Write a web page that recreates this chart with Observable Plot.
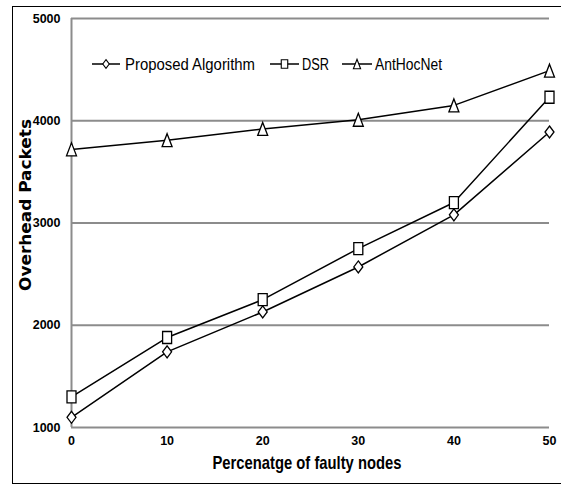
<!DOCTYPE html>
<html>
<head>
<meta charset="utf-8">
<script src="https://cdn.jsdelivr.net/npm/d3@7"></script>
<script src="https://cdn.jsdelivr.net/npm/@observablehq/plot@0.6"></script>
<style>
  html, body { margin: 0; padding: 0; background: #fff; }
  #wrap { position: relative; width: 561px; height: 485px; overflow: hidden; background: #fff; }
  #box { position: absolute; left: 12px; top: 6px; width: 560px; height: 478px;
         border-left: 1.5px solid #000; border-top: 1.5px solid #000; border-bottom: 1.5px solid #000;
         pointer-events: none; box-sizing: border-box; z-index: 2; }
  #wrap svg { position: absolute; left: 0; top: 0; }
</style>
</head>
<body>
<div id="wrap"><div id="box"></div></div>
<script>
const xValues = [0, 10, 20, 30, 40, 50];
const proposed = [1100, 1740, 2130, 2570, 3080, 3890];
const dsr = [1300, 1880, 2250, 2750, 3200, 4230];
const antHocNet = [3720, 3810, 3920, 4010, 4150, 4490];
const seriesNames = ["Proposed Algorithm", "DSR", "AntHocNet"];
const yTicks = [1000, 2000, 3000, 4000, 5000];
const xTicks = [0, 10, 20, 30, 40, 50];
const xTitle = "Percenatge of faulty nodes";
const yTitle = "Overhead Packets";

const seriesValues = [proposed, dsr, antHocNet];
const rows = seriesNames.flatMap((name, i) =>
  xValues.map((x, j) => ({series: name, x, y: seriesValues[i][j]})));

const sans = "'Liberation Sans', Arial, sans-serif";

function makeSymbols(s) {
  return {
    "Proposed Algorithm": {draw(c) { c.moveTo(0, -6*s); c.lineTo(4.5*s, 0); c.lineTo(0, 6*s); c.lineTo(-4.5*s, 0); c.closePath(); }},
    "DSR": {draw(c) { c.moveTo(-4.5*s, -6*s); c.lineTo(4.5*s, -6*s); c.lineTo(4.5*s, 6*s); c.lineTo(-4.5*s, 6*s); c.closePath(); }},
    "AntHocNet": {draw(c) { c.moveTo(0, -6.5*s); c.lineTo(5*s, 6.5*s); c.lineTo(-5*s, 6.5*s); c.closePath(); }}
  };
}
const sym = makeSymbols(1);

const chart = Plot.plot({
  width: 561,
  height: 485,
  marginTop: 18,
  marginBottom: 58,
  marginLeft: 71,
  marginRight: 12,
  x: {domain: [0, 50]},
  y: {domain: [1000, 5000]},
  style: {background: "transparent", overflow: "visible"},
  marks: [
    Plot.ruleY(yTicks, {stroke: "#8c8c8c", strokeWidth: 2}),
    Plot.ruleX([0], {stroke: "#8c8c8c", strokeWidth: 2}),
    Plot.axisY({ticks: yTicks, tickFormat: "d", tickSize: 0, tickPadding: 11, label: null,
      fontSize: 12.5, fontWeight: "bold", fontFamily: sans, fill: "#000"}),
    Plot.axisX({ticks: xTicks, tickFormat: "d", tickSize: 0, tickPadding: 9, label: null,
      fontSize: 12.5, fontWeight: "bold", fontFamily: sans, fill: "#000"}),
    Plot.line(rows, {x: "x", y: "y", z: "series", stroke: "#000", strokeWidth: 1.5}),
    ...seriesNames.map(name => Plot.dot(rows.filter(d => d.series === name),
      {x: "x", y: "y", symbol: sym[name], fill: "#fff", stroke: "#000", strokeWidth: 1.3}))
  ]
});

const svg = d3.select(chart);
// axis titles
svg.append("text").attr("x", 307).attr("y", 469).attr("text-anchor", "middle")
  .attr("font-family", sans).attr("font-weight", "bold").attr("font-size", 18.5)
  .attr("textLength", 189).attr("lengthAdjust", "spacingAndGlyphs").text(xTitle);
svg.append("text").attr("transform", "translate(31,205) rotate(-90)").attr("text-anchor", "middle")
  .attr("font-family", "'DejaVu Sans', Verdana, sans-serif").attr("font-weight", "bold").attr("font-size", 15)
  .attr("textLength", 172).attr("lengthAdjust", "spacingAndGlyphs").text(yTitle);

// legend
const lsym = makeSymbols(0.72);
const legendItems = [
  {name: seriesNames[0], x0: 92, x1: 120, tx: 125, w: 130},
  {name: seriesNames[1], x0: 270, x1: 299, tx: 302, w: 27},
  {name: seriesNames[2], x0: 342, x1: 372, tx: 375, w: 67}
];
const lg = svg.append("g");
for (const it of legendItems) {
  lg.append("line").attr("x1", it.x0).attr("x2", it.x1).attr("y1", 64).attr("y2", 64)
    .attr("stroke", "#000").attr("stroke-width", 1.5);
  const p = d3.path(); lsym[it.name].draw(p);
  lg.append("path").attr("d", p.toString()).attr("transform", `translate(${(it.x0 + it.x1) / 2},64)`)
    .attr("fill", "#fff").attr("stroke", "#000").attr("stroke-width", 1.1);
  lg.append("text").attr("x", it.tx).attr("y", 70).attr("text-anchor", "start").attr("font-family", sans)
    .attr("font-size", 16).attr("textLength", it.w).attr("lengthAdjust", "spacingAndGlyphs").text(it.name);
}

document.getElementById("wrap").appendChild(chart);
</script>
</body>
</html>
